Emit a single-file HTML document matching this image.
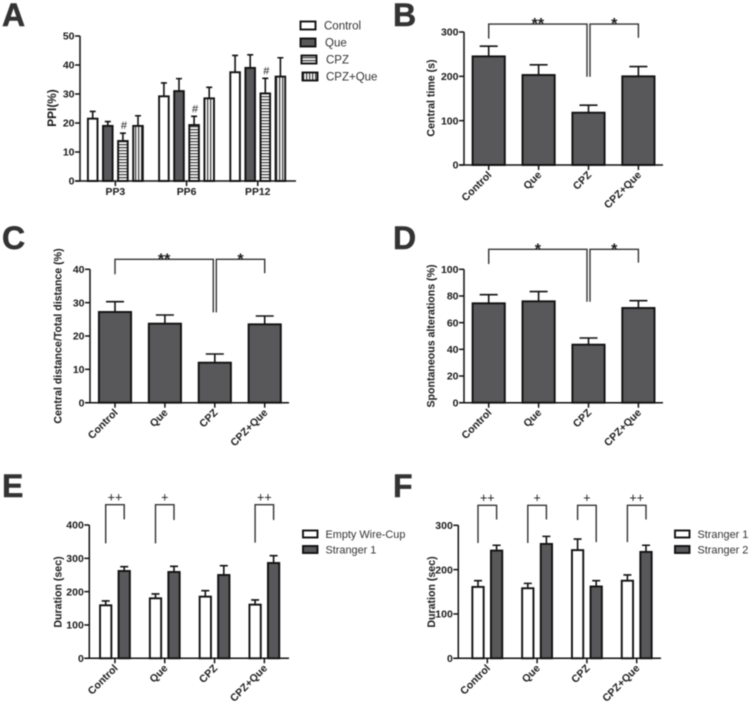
<!DOCTYPE html>
<html lang="en">
<head>
<meta charset="utf-8">
<title>Behavioural results panels A-F</title>
<style>
html,body{margin:0;padding:0;background:#fff;width:750px;height:703px;overflow:hidden}
svg{display:block;filter:blur(0.4px)}
text{font-family:"Liberation Sans",Arial,sans-serif;fill:#1a1a1a}
.letter{font-size:32px;font-weight:bold;fill:#333;stroke:#333;stroke-width:0.5px}
.legend{font-size:11.5px;fill:#333}
.legend-small{font-size:10.9px;fill:#333}
.title{font-size:10.6px;font-weight:bold;text-anchor:middle}
</style>
</head>
<body>
<svg id="figure" width="750" height="703" viewBox="0 0 750 703" xmlns="http://www.w3.org/2000/svg">
  <defs>
    <pattern id="hatch-h" width="3" height="3" patternUnits="userSpaceOnUse"><rect width="3" height="3" fill="#fff"/><rect width="3" height="1.3" fill="#444"/></pattern>
    <pattern id="hatch-v" width="3" height="3" patternUnits="userSpaceOnUse"><rect width="3" height="3" fill="#fff"/><rect width="1.3" height="3" fill="#444"/></pattern>
  </defs>

  <g id="panel-a">
    <text class="letter" x="2" y="26">A</text>
    <text class="title" style="font-size:11.8px" transform="translate(56,108) rotate(-90)">PPI(%)</text>
    <g>
      <rect x="300.5" y="21.5" width="15" height="8" fill="#fff" stroke="#111" stroke-width="1.9"/>
      <text class="legend" x="324" y="29.5">Control</text>
      <rect x="300.5" y="38.5" width="15" height="8" fill="#58585a" stroke="#111" stroke-width="1.9"/>
      <text class="legend" x="325" y="46.5">Que</text>
      <rect x="301.5" y="55.5" width="15" height="8" fill="url(#hatch-h)" stroke="#111" stroke-width="1.9"/>
      <text class="legend" x="326" y="63.5">CPZ</text>
      <rect x="302.5" y="72.5" width="15" height="8" fill="url(#hatch-v)" stroke="#111" stroke-width="1.9"/>
      <text class="legend" x="326" y="80.5">CPZ+Que</text>
    </g>
  </g>

  <g id="panel-b">
    <text class="letter" x="393" y="26">B</text>
    <text class="title" transform="translate(434.5,98) rotate(-90)">Central time (s)</text>
  </g>

  <g id="panel-c">
    <text class="letter" x="2" y="249">C</text>
    <text class="title" transform="translate(61.5,336) rotate(-90)">Central distance/Total distance (%)</text>
  </g>

  <g id="panel-d">
    <text class="letter" x="393" y="249">D</text>
    <text class="title" transform="translate(434.5,336) rotate(-90)">Spontaneous alterations (%)</text>
  </g>

  <g id="panel-e">
    <text class="letter" x="2" y="497">E</text>
    <text class="title" transform="translate(61.5,592) rotate(-90)">Duration (sec)</text>
    <g>
      <rect x="303" y="530.5" width="14.5" height="7" fill="#fff" stroke="#111" stroke-width="1.9"/>
      <text class="legend-small" x="325.5" y="538">Empty Wire-Cup</text>
      <rect x="303" y="546" width="14.5" height="7" fill="#58585a" stroke="#111" stroke-width="1.9"/>
      <text class="legend-small" x="325.5" y="553.5">Stranger 1</text>
    </g>
  </g>

  <g id="panel-f">
    <text class="letter" x="393" y="497">F</text>
    <text class="title" transform="translate(435,592) rotate(-90)">Duration (sec)</text>
    <g>
      <rect x="675" y="530.5" width="14.5" height="7" fill="#fff" stroke="#111" stroke-width="1.9"/>
      <text class="legend-small" x="697.5" y="538">Stranger 1</text>
      <rect x="675" y="546" width="14.5" height="7" fill="#58585a" stroke="#111" stroke-width="1.9"/>
      <text class="legend-small" x="697.5" y="553.5">Stranger 2</text>
    </g>
  </g>
</svg>

<script>
// ---- Shared labels ----
const drugCategories = ['Control', 'Que', 'CPZ', 'CPZ+Que'];

// ---- Panel A ----
const aCategories = ['PP3', 'PP6', 'PP12'];
const aTicks = [0, 10, 20, 30, 40, 50];
const aControl = [21.5, 29.2, 37.5];
const aControlTop = [24, 33.8, 43.3];
const aQue = [19, 31, 39];
const aQueTop = [20.5, 35.3, 43.5];
const aCpz = [13.8, 19.3, 30.2];
const aCpzTop = [16.5, 22.3, 35.4];
const aCpzQue = [19, 28.5, 36];
const aCpzQueTop = [22.5, 32.3, 42.5];

// ---- Panel B ----
const bTicks = [0, 100, 200, 300];
const bValues = [245, 203, 118, 200];
const bTops = [268, 226, 135, 222];

// ---- Panel C ----
const cTicks = [0, 10, 20, 30, 40];
const cValues = [27.2, 23.7, 12, 23.5];
const cTops = [30.3, 26.3, 14.6, 26];

// ---- Panel D ----
const dTicks = [0, 20, 40, 60, 80, 100];
const dValues = [74.5, 76, 43.5, 71];
const dTops = [81, 83.3, 48.5, 76.5];

// ---- Panel E ----
const eTicks = [0, 100, 200, 300, 400];
const eEmpty = [159, 180, 185, 161];
const eEmptyTop = [172, 193, 203, 175];
const eStranger1 = [262, 259, 250, 286];
const eStranger1Top = [275, 276, 278, 308];

// ---- Panel F ----
const fTicks = [0, 100, 200, 300];
const fStranger1 = [161, 158, 244, 175];
const fStranger1Top = [175, 169, 269, 188];
const fStranger2 = [243, 258, 162, 240];
const fStranger2Top = [255, 275, 175, 255];

const NS = 'http://www.w3.org/2000/svg';
const DARK = '#58585a';

function make(tag, attrs, parent) {
  const node = document.createElementNS(NS, tag);
  for (const k in attrs) node.setAttribute(k, attrs[k]);
  parent.appendChild(node);
  return node;
}

function drawPanel(p) {
  const root = document.getElementById(p.id);
  const yPos = v => p.y0 - (v / p.yMax) * (p.y0 - p.yTop);
  const xPos = (g, s) => p.first + g * p.groupStep + s * p.barStep;
  const groupCenter = g => xPos(g, (p.series.length - 1) / 2);

  // bars and error bars
  p.series.forEach((ser, s) => {
    ser.values.forEach((v, g) => {
      const cx = xPos(g, s);
      const top = yPos(ser.tops[g]);
      const err = make('path', {
        d: 'M' + cx + ' ' + yPos(v) + 'V' + top + 'M' + (cx - p.cap / 2) + ' ' + top + 'H' + (cx + p.cap / 2),
        fill: 'none', stroke: '#111', 'stroke-width': 1.6
      }, root);
      
      
      const bar = make('rect', {
        x: cx - p.barW / 2, y: yPos(v), width: p.barW, height: p.y0 - yPos(v),
        fill: ser.fill, stroke: '#111', 'stroke-width': 1.9
      }, root);
      
      
    });
  });

  // axes
  const yAxis = make('line', { x1: p.x0, x2: p.x0, y1: yPos(p.ticks[p.ticks.length - 1]), y2: p.y0, stroke: '#111', 'stroke-width': 1.5 }, root);
  
  
  const xAxis = make('line', { x1: p.x0 - 5, x2: p.xEnd, y1: p.y0, y2: p.y0, stroke: '#111', 'stroke-width': 1.5 }, root);
  
  

  p.ticks.forEach(t => {
    const tick = make('line', { x1: p.x0 - 5, x2: p.x0, y1: yPos(t), y2: yPos(t), stroke: '#111', 'stroke-width': 1.5 }, root);
    
    
    const lab = make('text', { x: p.x0 - 5.5, y: yPos(t) + 3.7, 'text-anchor': 'end', 'font-size': 10.5, 'font-weight': 'bold' }, root);
    lab.textContent = t;
    
    
  });

  p.categories.forEach((c, g) => {
    const cx = groupCenter(g);
    const tick = make('line', { x1: cx, x2: cx, y1: p.y0, y2: p.y0 + 5, stroke: '#111', 'stroke-width': 1.5 }, root);
    
    
    const attrs = p.flatLabels
      ? { x: cx, y: p.y0 + 14, 'text-anchor': 'middle', 'font-size': 10.4, 'font-weight': 'bold' }
      : { 'text-anchor': 'end', 'font-size': 10.5, 'font-weight': 'bold', transform: 'translate(' + (cx + 3.5) + ',' + (p.y0 + 10.5) + ') rotate(-45)' };
    const lab = make('text', attrs, root);
    lab.textContent = c;
    
    
  });

  // significance brackets (expressed in data units)
  (p.brackets || []).forEach(b => {
    const xa = xPos(b.from[0], b.from[1]) + (b.join === 'from' ? 1.5 : 0);
    const xb = xPos(b.to[0], b.to[1]) - (b.join === 'to' ? 1.5 : 0);
    const path = make('path', {
      d: 'M' + xa + ' ' + yPos(b.fromEnd) + 'V' + yPos(b.top) + 'H' + xb + 'V' + yPos(b.toEnd),
      fill: 'none', stroke: '#333', 'stroke-width': 1.4
    }, root);
    
    
    const isStar = b.label.indexOf('*') >= 0;
    const mark = make('text', {
      x: (xa + xb) / 2, y: yPos(b.top) + (isStar ? 5 : -3.2),
      'text-anchor': 'middle', 'font-size': isStar ? 16 : 12.5, 'font-weight': isStar ? 'bold' : 'normal'
    }, root);
    mark.textContent = b.label;
    
    
  });

  // small hash annotations
  (p.hashes || []).forEach(h => {
    const mark = make('text', {
      x: xPos(h[0], h[1]) + 1, y: yPos(p.series[h[1]].tops[h[0]]) - 4,
      'text-anchor': 'middle', 'font-size': 11, fill: '#333'
    }, root);
    mark.textContent = '#';
    
    
  });
}

drawPanel({
  id: 'panel-a', x0: 80, xEnd: 296, y0: 181, yTop: 36, yMax: 50, ticks: aTicks,
  categories: aCategories, flatLabels: true,
  first: 92.7, groupStep: 71.2, barStep: 15.1, barW: 9.6, cap: 6,
  series: [
    { key: 'control', fill: '#fff', values: aControl, tops: aControlTop },
    { key: 'que', fill: DARK, values: aQue, tops: aQueTop },
    { key: 'cpz', fill: 'url(#hatch-h)', values: aCpz, tops: aCpzTop },
    { key: 'cpz-que', fill: 'url(#hatch-v)', values: aCpzQue, tops: aCpzQueTop }
  ],
  hashes: [[0, 2], [1, 2], [2, 2]]
});

drawPanel({
  id: 'panel-b', x0: 464, xEnd: 663, y0: 165, yTop: 32, yMax: 300, ticks: bTicks,
  categories: drugCategories,
  first: 488.7, groupStep: 49.9, barStep: 0, barW: 32.2, cap: 18,
  series: [{ key: 'central-time', fill: DARK, values: bValues, tops: bTops }],
  brackets: [
    { from: [0, 0], to: [2, 0], top: 318, fromEnd: 285, toEnd: 199, label: '**', join: 'to' },
    { from: [2, 0], to: [3, 0], top: 318, fromEnd: 199, toEnd: 287, label: '*', join: 'from' }
  ]
});

drawPanel({
  id: 'panel-c', x0: 90, xEnd: 289, y0: 402.7, yTop: 269.3, yMax: 40, ticks: cTicks,
  categories: drugCategories,
  first: 115, groupStep: 49.9, barStep: 0, barW: 32.2, cap: 18,
  series: [{ key: 'central-distance', fill: DARK, values: cValues, tops: cTops }],
  brackets: [
    { from: [0, 0], to: [2, 0], top: 43, fromEnd: 38.5, toEnd: 27.1, label: '**', join: 'to' },
    { from: [2, 0], to: [3, 0], top: 43, fromEnd: 27.1, toEnd: 38.8, label: '*', join: 'from' }
  ]
});

drawPanel({
  id: 'panel-d', x0: 464, xEnd: 663, y0: 402.7, yTop: 269.3, yMax: 100, ticks: dTicks,
  categories: drugCategories,
  first: 488.7, groupStep: 49.9, barStep: 0, barW: 32.2, cap: 18,
  series: [{ key: 'spontaneous-alterations', fill: DARK, values: dValues, tops: dTops }],
  brackets: [
    { from: [0, 0], to: [2, 0], top: 115, fromEnd: 104, toEnd: 75.7, label: '*', join: 'to' },
    { from: [2, 0], to: [3, 0], top: 115, fromEnd: 75.7, toEnd: 105, label: '*', join: 'from' }
  ]
});

drawPanel({
  id: 'panel-e', x0: 89.3, xEnd: 289, y0: 658.3, yTop: 525, yMax: 400, ticks: eTicks,
  categories: drugCategories,
  first: 105.7, groupStep: 49.8, barStep: 18.5, barW: 11.3, cap: 8,
  series: [
    { key: 'empty-wire-cup', fill: '#fff', values: eEmpty, tops: eEmptyTop },
    { key: 'stranger-1', fill: DARK, values: eStranger1, tops: eStranger1Top }
  ],
  brackets: [
    { from: [0, 0], to: [0, 1], top: 461, fromEnd: 345, toEnd: 417, label: '++' },
    { from: [1, 0], to: [1, 1], top: 461, fromEnd: 345, toEnd: 415, label: '+' },
    { from: [3, 0], to: [3, 1], top: 461, fromEnd: 347, toEnd: 415, label: '++' }
  ]
});

drawPanel({
  id: 'panel-f', x0: 458.3, xEnd: 661, y0: 658.3, yTop: 525.3, yMax: 300, ticks: fTicks,
  categories: drugCategories,
  first: 478, groupStep: 49.8, barStep: 18.6, barW: 11.3, cap: 8,
  series: [
    { key: 'stranger-1', fill: '#fff', values: fStranger1, tops: fStranger1Top },
    { key: 'stranger-2', fill: DARK, values: fStranger2, tops: fStranger2Top }
  ],
  brackets: [
    { from: [0, 0], to: [0, 1], top: 345, fromEnd: 260, toEnd: 313, label: '++' },
    { from: [1, 0], to: [1, 1], top: 345, fromEnd: 260, toEnd: 313, label: '+' },
    { from: [2, 0], to: [2, 1], top: 345, fromEnd: 312, toEnd: 262, label: '+' },
    { from: [3, 0], to: [3, 1], top: 345, fromEnd: 262, toEnd: 313, label: '++' }
  ]
});
</script>
</body>
</html>
